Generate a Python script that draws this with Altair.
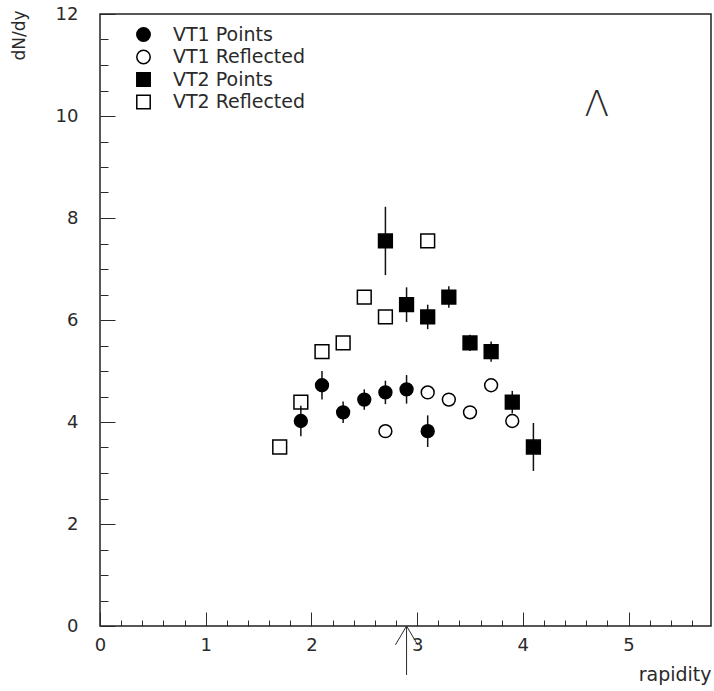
import altair as alt
import pandas as pd

# ---- measured dN/dy versus rapidity ----
SERIES = ["VT1 Points", "VT1 Reflected", "VT2 Points", "VT2 Reflected"]

vt1_x = [1.9, 2.1, 2.3, 2.5, 2.7, 2.9, 3.1]
vt1_y = [4.02, 4.72, 4.19, 4.44, 4.58, 4.64, 3.82]
vt1_err = [0.30, 0.28, 0.21, 0.20, 0.23, 0.28, 0.31]

vt1r_x = [2.7, 3.1, 3.3, 3.5, 3.7, 3.9]
vt1r_y = [3.82, 4.58, 4.44, 4.19, 4.72, 4.02]

vt2_x = [2.7, 2.9, 3.1, 3.3, 3.5, 3.7, 3.9, 4.1]
vt2_y = [7.55, 6.30, 6.06, 6.45, 5.55, 5.38, 4.39, 3.51]
vt2_err = [0.67, 0.34, 0.24, 0.21, 0.16, 0.20, 0.22, 0.47]

vt2r_x = [1.7, 1.9, 2.1, 2.3, 2.5, 2.7, 3.1]
vt2r_y = [3.51, 4.39, 5.38, 5.55, 6.45, 6.06, 7.55]

# axis ticks
x_major = [0, 1, 2, 3, 4, 5]
x_minor = [round(i * 0.2, 1) for i in range(29) if i % 5 != 0]
y_major = [0, 2, 4, 6, 8, 10, 12]
y_minor = [i * 0.5 for i in range(24) if i % 4 != 0]

# mid-rapidity arrow and particle label
MID_Y = 2.9
ARROW_TAIL = -0.96
HEAD_DX, HEAD_DY = 0.105, -0.37
LABEL_TEXT = "Λ"
LABEL_X, LABEL_Y = 4.7, 10.0

W, H = 611, 612
X_MAX = 5.78
FONT = "DejaVu Sans"
INK = "#2a2a2a"
CIRCLE_AREA, SQUARE_AREA = 165, 190

# ---- tables ----
markers = pd.concat([
    pd.DataFrame({"x": vt1r_x, "y": vt1r_y, "series": SERIES[1], "sz": CIRCLE_AREA}),
    pd.DataFrame({"x": vt2r_x, "y": vt2r_y, "series": SERIES[3], "sz": SQUARE_AREA}),
    pd.DataFrame({"x": vt1_x, "y": vt1_y, "series": SERIES[0], "sz": CIRCLE_AREA}),
    pd.DataFrame({"x": vt2_x, "y": vt2_y, "series": SERIES[2], "sz": SQUARE_AREA}),
], ignore_index=True)

bars = pd.concat([
    pd.DataFrame({"x": vt1_x, "y": vt1_y, "e": vt1_err}),
    pd.DataFrame({"x": vt2_x, "y": vt2_y, "e": vt2_err}),
], ignore_index=True)
bars["lo"] = bars["y"] - bars["e"]
bars["hi"] = bars["y"] + bars["e"]

arrow_shaft = pd.DataFrame({"x": [MID_Y], "y0": [ARROW_TAIL], "y1": [0.0]})
arrow_head = pd.DataFrame({
    "x": [MID_Y - HEAD_DX, MID_Y, MID_Y + HEAD_DX],
    "y": [HEAD_DY, 0.0, HEAD_DY],
    "o": [0, 1, 2],
})
label_df = pd.DataFrame({"x": [LABEL_X], "y": [LABEL_Y], "t": [LABEL_TEXT]})
anchor_df = pd.DataFrame({"x": [0.0], "y": [0.0]})

xs = alt.Scale(domain=[0, X_MAX], nice=False, zero=False)
ys = alt.Scale(domain=[0, 12], nice=False, zero=False)

# ---- axes: labels outside, ticks drawn inward ----
ax_x_labels = alt.Axis(
    orient="bottom", values=x_major, ticks=False, domain=False, grid=False,
    labelPadding=10, labelFont=FONT, labelFontSize=18, labelColor=INK,
    labelFlush=False, format="d",
    title="rapidity", titleFont=FONT, titleFontSize=19, titleFontWeight="normal",
    titleColor=INK, titleX=W, titleY=54, titleAlign="right",
    titleBaseline="alphabetic",
)
ax_x_major = alt.Axis(orient="top", offset=-H, values=x_major, labels=False,
                      domain=False, grid=False, tickSize=14, tickColor=INK,
                      tickWidth=1, title=None)
ax_x_minor = alt.Axis(orient="top", offset=-H, values=x_minor, labels=False,
                      domain=False, grid=False, tickSize=6, tickColor=INK,
                      tickWidth=1, title=None)

ax_y_labels = alt.Axis(
    orient="left", values=y_major, ticks=False, domain=False, grid=False,
    labelPadding=22, labelFont=FONT, labelFontSize=18, labelColor=INK,
    labelFlush=False, format="d",
    title="dN/dy", titleFont=FONT, titleFontSize=17, titleFontWeight="normal",
    titleColor=INK, titleAngle=270, titleX=-81, titleY=-4,
    titleAlign="right", titleBaseline="middle",
)
ax_y_major = alt.Axis(orient="right", offset=-W, values=y_major, labels=False,
                      domain=False, grid=False, tickSize=15, tickColor=INK,
                      tickWidth=1, title=None)
ax_y_minor = alt.Axis(orient="right", offset=-W, values=y_minor, labels=False,
                      domain=False, grid=False, tickSize=8, tickColor=INK,
                      tickWidth=1, title=None)


def axis_layer(ax_x, ax_y):
    return alt.Chart(anchor_df).mark_point(opacity=0).encode(
        x=alt.X("x:Q", scale=xs, axis=ax_x),
        y=alt.Y("y:Q", scale=ys, axis=ax_y),
    )


legend = alt.Legend(
    orient="none", legendX=34, legendY=11, title=None, padding=0,
    labelFont=FONT, labelFontSize=19, labelColor=INK, labelOffset=20,
    symbolSize=180, symbolStrokeColor="black", symbolStrokeWidth=1.5,
    symbolOpacity=1, rowPadding=1.5,
)

err_layer = alt.Chart(bars).mark_rule(color="#111111", strokeWidth=1.5).encode(
    x=alt.X("x:Q", scale=xs, axis=None),
    y=alt.Y("lo:Q", scale=ys, axis=None),
    y2="hi:Q",
)

marker_layer = alt.Chart(markers).mark_point(
    filled=True, strokeWidth=1.5, opacity=1, fillOpacity=1, strokeOpacity=1
).encode(
    x=alt.X("x:Q", scale=xs, axis=None),
    y=alt.Y("y:Q", scale=ys, axis=None),
    shape=alt.Shape("series:N", scale=alt.Scale(
        domain=SERIES, range=["circle", "circle", "square", "square"]),
        legend=legend),
    fill=alt.Fill("series:N", scale=alt.Scale(
        domain=SERIES, range=["black", "transparent", "black", "transparent"]),
        legend=legend),
    stroke=alt.Stroke("series:N", scale=alt.Scale(
        domain=SERIES, range=["black", "black", "black", "black"]),
        legend=legend),
    size=alt.Size("sz:Q", scale=None),
)

shaft_layer = alt.Chart(arrow_shaft).mark_rule(color=INK, strokeWidth=1).encode(
    x=alt.X("x:Q", scale=xs, axis=None),
    y=alt.Y("y0:Q", scale=ys, axis=None),
    y2="y1:Q",
)
head_layer = alt.Chart(arrow_head).mark_line(color=INK, strokeWidth=1).encode(
    x=alt.X("x:Q", scale=xs, axis=None),
    y=alt.Y("y:Q", scale=ys, axis=None),
    order="o:Q",
)
label_layer = alt.Chart(label_df).mark_text(
    font=FONT, fontSize=36, fontWeight=200, color=INK,
    align="center", baseline="alphabetic"
).encode(
    x=alt.X("x:Q", scale=xs, axis=None),
    y=alt.Y("y:Q", scale=ys, axis=None),
    text="t:N",
)

chart = alt.layer(
    axis_layer(ax_x_labels, ax_y_labels),
    axis_layer(ax_x_major, ax_y_major),
    axis_layer(ax_x_minor, ax_y_minor),
    err_layer,
    marker_layer,
    shaft_layer,
    head_layer,
    label_layer,
).resolve_axis(
    x="independent", y="independent"
).properties(
    width=W, height=H, autosize="none",
    padding={"left": 100, "top": 14, "right": 3, "bottom": 65},
    background="white",
).configure_view(
    stroke="#222222", strokeWidth=1.5
)

chart.save("out.html", embed_options={"renderer": "svg", "actions": False})
